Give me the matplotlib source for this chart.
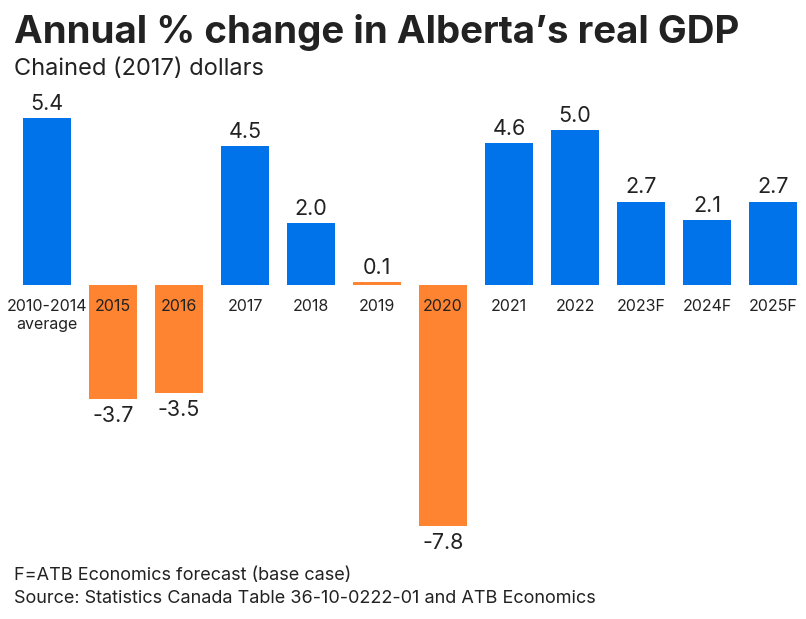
import matplotlib.pyplot as plt
import numpy as np

plt.rcParams['font.family'] = ['Inter', 'DejaVu Sans']

# data
categories = ["2010-2014\naverage", "2015", "2016", "2017", "2018", "2019",
              "2020", "2021", "2022", "2023F", "2024F", "2025F"]
values = [5.4, -3.7, -3.5, 4.5, 2.0, 0.1, -7.8, 4.6, 5.0, 2.7, 2.1, 2.7]
weak_years = ["2015", "2016", "2019", "2020"]

BLUE = "#0073EA"
ORANGE = "#FF8432"
TEXT = "#222222"

fig = plt.figure(figsize=(8.06, 6.19), dpi=100)
W, H = 806, 619
# axes placed in pixel terms: x from 14 to 806, y from 85 to 560
ax = fig.add_axes([14 / W, 1 - 560 / H, 792 / W, (560 - 85) / H])

x = np.arange(len(categories))
colors = [ORANGE if c in weak_years else BLUE for c in categories]
ax.bar(x, values, width=0.73, color=colors)

ax.set_xlim(-0.5, len(categories) - 0.5)
ax.set_ylim(-8.9, 6.47)
ax.axis("off")

for xi, v, c in zip(x, values, categories):
    # category label just under the zero line (inside negative bars)
    ax.annotate(c, (xi, 0), xytext=(0, -10), textcoords="offset points",
                ha="center", va="top", fontsize=11.5, color=TEXT,
                linespacing=1.25)
    # value label outside the bar end
    if v >= 0:
        ax.annotate(f"{v:.1f}", (xi, v), xytext=(0, 3), textcoords="offset points",
                    ha="center", va="bottom", fontsize=15.5, color=TEXT)
    else:
        ax.annotate(f"{v:.1f}", (xi, v), xytext=(0, -5), textcoords="offset points",
                    ha="center", va="top", fontsize=15.5, color=TEXT)

fig.text(14 / W, 1 - 14 / H, "Annual % change in Alberta\u2019s real GDP",
         ha="left", va="top", fontsize=27.7, fontweight="bold", color=TEXT)
fig.text(14 / W, 1 - 58 / H, "Chained (2017) dollars",
         ha="left", va="top", fontsize=17, color=TEXT)
fig.text(14 / W, 1 - 567 / H, "F=ATB Economics forecast (base case)",
         ha="left", va="top", fontsize=13, color=TEXT)
fig.text(14 / W, 1 - 590 / H, "Source: Statistics Canada Table 36-10-0222-01 and ATB Economics",
         ha="left", va="top", fontsize=13, color=TEXT)

fig.savefig("out.png", dpi=100)
